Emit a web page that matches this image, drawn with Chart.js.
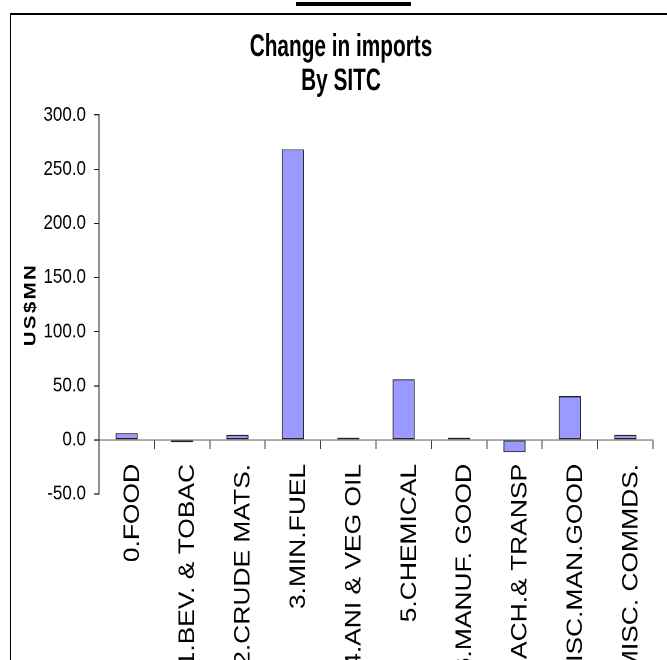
<!DOCTYPE html>
<html>
<head>
<meta charset="utf-8">
<script src="https://cdn.jsdelivr.net/npm/chart.js@4.4.1/dist/chart.umd.min.js"></script>
<style>
  html, body { margin: 0; padding: 0; background: #fff; overflow: hidden; }
  body { width: 667px; height: 660px; position: relative; }
  #rule { position: absolute; left: 296px; top: 2px; width: 115px; height: 4px; background: #000; }
  #frame { position: absolute; left: 10px; top: 13px; width: 700px; height: 700px;
           border-top: 2px solid #000; border-left: 1px solid #000; }
  #wrap { position: absolute; left: 10px; top: 14px; width: 662px; height: 540px;
          transform: scaleY(1.2); transform-origin: 0 0; }
</style>
</head>
<body>
<div id="rule"></div>
<div id="frame"></div>
<div id="wrap"><canvas id="importsChart" width="662" height="540"></canvas></div>
<script>
const categories = ['0.FOOD', '1.BEV. & TOBAC', '2.CRUDE MATS.', '3.MIN.FUEL', '4.ANI & VEG OIL',
                    '5.CHEMICAL', '6.MANUF. GOOD', '7.MACH.& TRANSP', '8.MISC.MAN.GOOD', '9.MISC. COMMDS.'];
const changeValues = [6.2, -2.0, 4.6, 268.3, 2.0, 56.0, 2.0, -11.4, 40.3, 4.6];
const yTicks = [-50, 0, 50, 100, 150, 200, 250, 300];

const arial = "'Liberation Sans', Arial, sans-serif";
const titleSqueeze = 0.8;   // the original title is set in a narrow face

// narrow the title and space out the axis title letters
const textTweaks = {
    id: 'textTweaks',
    beforeDraw(chart) {
        const ctx = chart.ctx;
        const tb = chart.titleBlock;
        if (tb && !tb._tweaked) {
            const draw = tb.draw.bind(tb);
            tb.draw = (area) => {
                const cx = (tb.left + tb.right) / 2;
                ctx.save();
                ctx.translate(cx, 0); ctx.scale(titleSqueeze, 1); ctx.translate(-cx, 0);
                draw(area);
                ctx.restore();
            };
            tb._tweaked = true;
        }
        const ys = chart.scales.y;
        if (ys && !ys._tweaked) {
            const drawTitle = ys.drawTitle.bind(ys);
            ys.drawTitle = () => {
                ctx.save();
                ctx.letterSpacing = '2px';
                drawTitle();
                ctx.restore();
            };
            ys._tweaked = true;
        }
    }
};

new Chart(document.getElementById('importsChart'), {
    type: 'bar',
    data: {
        labels: categories,
        datasets: [{
            label: 'Change in imports', data: changeValues,
            backgroundColor: '#9999FF', borderColor: '#222', borderWidth: 1, borderSkipped: false,
            barPercentage: 0.4, categoryPercentage: 1
        }]
    },
    plugins: [textTweaks],
    options: {
        responsive: false, animation: false, devicePixelRatio: 2,
        layout: { padding: { top: 0, left: 19, right: 19, bottom: 140 } },
        plugins: {
            legend: { display: false }, tooltip: { enabled: false },
            title: {
                display: true, text: ['Change in imports', 'By SITC'], color: '#000',
                font: { family: arial, size: 26, weight: 'bold', lineHeight: 1.1 },
                padding: { top: 13.5, bottom: 13.5 }
            }
        },
        scales: {
            x: {
                position: { y: 0 }, offset: true,
                border: { color: '#808080', width: 1 },
                grid: { drawOnChartArea: false, offset: true, tickLength: 7, color: '#404040' },
                ticks: {
                    autoSkip: false, minRotation: 90, maxRotation: 90, padding: 13, labelOffset: 6,
                    color: '#000', font: { family: arial, size: 22 }
                }
            },
            y: {
                min: -50, max: 300,
                afterFit: s => { s.width = 70; },
                afterBuildTicks: s => { s.ticks = yTicks.map(v => ({ value: v })); },
                border: { color: '#222', width: 1 },
                grid: { drawOnChartArea: false, tickLength: 5, color: '#222' },
                ticks: { padding: 8, color: '#000', font: { family: arial, size: 17 }, callback: v => v.toFixed(1) },
                title: {
                    display: true, text: 'US$MN', color: '#000',
                    font: { family: arial, size: 17, weight: 'bold' }, padding: { top: -8.2, bottom: 0 }
                }
            }
        }
    }
});
</script>
</body>
</html>
